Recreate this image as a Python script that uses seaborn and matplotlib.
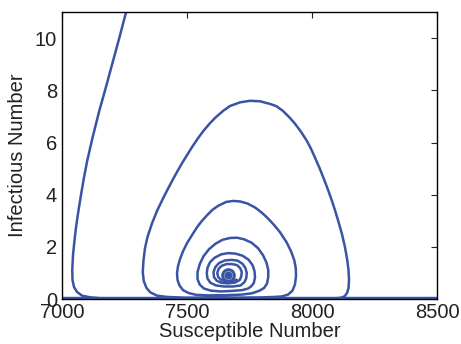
import numpy as np
import pandas as pd
import seaborn as sns
import matplotlib.pyplot as plt

# trajectory, piece by piece (S = susceptible, I = infectious)
s_tail = [7268, 7255, 7230, 7204, 7177, 7149, 7124, 7101, 7088, 7077, 7066, 7056, 7050, 7044, 7041,
          7042, 7048, 7060, 7080, 7112, 7152, 7212, 7400, 7700, 8000, 8080]
i_tail = [11.41, 10.95, 10.04, 9.12, 8.17, 7.21, 6.26, 5.31, 4.66, 4.05, 3.40, 2.75, 2.25, 1.68, 1.11,
          0.73, 0.46, 0.27, 0.13, 0.065, 0.03, 0.015, 0.01, 0.01, 0.01, 0.02]

s_loop1 = [8112, 8130, 8140, 8146, 8148, 8146, 8141, 8132, 8119, 8104, 8092, 8079, 8065, 8050, 8031,
           8012, 7996, 7979, 7956, 7932, 7908, 7884, 7858, 7832, 7792, 7752, 7712, 7672, 7644, 7614,
           7590, 7566, 7543, 7519, 7499, 7479, 7460, 7441, 7410, 7381, 7360, 7342, 7332, 7326, 7323,
           7327, 7338, 7354, 7380, 7420, 7492, 7632, 7792, 7852]
i_loop1 = [0.04, 0.10, 0.23, 0.42, 0.73, 1.11, 1.49, 1.98, 2.52, 3.02, 3.40, 3.78, 4.16, 4.54, 5.00,
           5.42, 5.76, 6.07, 6.41, 6.72, 6.98, 7.21, 7.39, 7.48, 7.58, 7.60, 7.54, 7.40, 7.21, 6.96,
           6.72, 6.45, 6.15, 5.81, 5.50, 5.19, 4.87, 4.54, 3.97, 3.40, 2.90, 2.38, 1.95, 1.49, 1.03,
           0.69, 0.42, 0.25, 0.13, 0.08, 0.05, 0.046, 0.06, 0.08]

s_loop2 = [7880, 7904, 7922, 7932, 7936, 7935, 7929, 7916, 7898, 7872, 7848, 7824, 7798, 7772, 7742,
           7712, 7684, 7656, 7624, 7602, 7582, 7560, 7540, 7518, 7500, 7484, 7472, 7464, 7460, 7462,
           7470, 7484, 7506, 7536, 7584, 7652, 7720, 7760]
i_loop2 = [0.10, 0.17, 0.32, 0.57, 0.88, 1.18, 1.49, 1.83, 2.18, 2.56, 2.84, 3.09, 3.32, 3.51, 3.66,
           3.74, 3.76, 3.72, 3.57, 3.42, 3.23, 3.00, 2.75, 2.42, 2.14, 1.83, 1.53, 1.26, 0.99, 0.73,
           0.52, 0.34, 0.23, 0.16, 0.14, 0.145, 0.17, 0.22]

s_loop3 = [7788, 7808, 7820, 7825, 7825, 7818, 7804, 7784, 7758, 7728, 7700, 7672, 7642, 7614, 7588,
           7566, 7551, 7542, 7542, 7551, 7568, 7596, 7636, 7680, 7720, 7744]
i_loop3 = [0.31, 0.42, 0.59, 0.84, 1.11, 1.39, 1.68, 1.95, 2.16, 2.29, 2.35, 2.34, 2.27, 2.12, 1.91,
           1.64, 1.34, 1.03, 0.76, 0.55, 0.40, 0.32, 0.29, 0.31, 0.34, 0.40]

s_loop4 = [7756, 7767, 7772, 7770, 7762, 7746, 7722, 7694, 7664, 7636, 7610, 7592, 7582, 7579, 7582,
           7594, 7616, 7648, 7684, 7714]
i_loop4 = [0.48, 0.61, 0.82, 1.07, 1.30, 1.51, 1.66, 1.74, 1.76, 1.71, 1.58, 1.41, 1.20, 0.99, 0.78,
           0.62, 0.52, 0.48, 0.48, 0.52]

s_loop5 = [7730, 7737, 7739, 7734, 7722, 7702, 7678, 7652, 7628, 7613, 7606, 7608, 7619, 7638, 7664,
           7692]
i_loop5 = [0.65, 0.80, 0.99, 1.18, 1.35, 1.47, 1.50, 1.48, 1.38, 1.22, 1.03, 0.84, 0.70, 0.62, 0.60,
           0.63]

s_loop6 = [7711, 7717, 7719, 7713, 7700, 7680, 7658, 7638, 7626, 7621, 7625, 7637, 7658, 7682, 7698]
i_loop6 = [0.73, 0.87, 1.03, 1.18, 1.30, 1.34, 1.34, 1.27, 1.15, 0.99, 0.84, 0.73, 0.69, 0.71, 0.74]

# equilibrium the spiral winds into
s_eq = [7662]
i_eq = [0.93]

# disease-free line I = 0
s_axis = [7000, 8500]
i_axis = [0.0, 0.0]

s_all = s_tail + s_loop1 + s_loop2 + s_loop3 + s_loop4 + s_loop5 + s_loop6
i_all = i_tail + i_loop1 + i_loop2 + i_loop3 + i_loop4 + i_loop5 + i_loop6
traj = pd.DataFrame({"S": s_all, "I": i_all})

blue = "#3a53a4"
txt = "#222222"

sns.set_style("white")
plt.rcParams["font.family"] = ["Liberation Sans", "DejaVu Sans"]

fig = plt.figure(figsize=(4.61, 3.44), dpi=100)
ax = fig.add_axes([0.1345, 0.1308, 0.8135, 0.834])

sns.lineplot(data=traj, x="S", y="I", sort=False, estimator=None, color=blue, lw=1.8,
             solid_joinstyle="round", ax=ax)
sns.lineplot(x=s_axis, y=i_axis, sort=False, estimator=None, color=blue, lw=3.2, ax=ax)
ax.plot(s_eq, i_eq, "o", color=blue, ms=9.5, mec=blue)
ax.plot(s_eq, i_eq, "o", mfc="none", mec="#8b9bd0", ms=6, mew=0.6)

ax.set_xlim(7000, 8500)
ax.set_ylim(0, 11)
ax.set_xticks([7000, 7500, 8000, 8500])
ax.set_yticks([0, 2, 4, 6, 8, 10])
ax.tick_params(direction="in", length=4, width=0.8, top=True, right=True,
               labelsize=14.5, colors=txt, pad=3.5)
ax.tick_params(axis="x", pad=3)
for sp in ax.spines.values():
    sp.set_color("black")
    sp.set_linewidth(1.0)
ax.set_xlabel("Susceptible Number", fontsize=14.5, labelpad=0, color=txt)
ax.set_ylabel("Infectious Number", fontsize=14.5, labelpad=6, color=txt)

fig.savefig("out.png", dpi=100)
